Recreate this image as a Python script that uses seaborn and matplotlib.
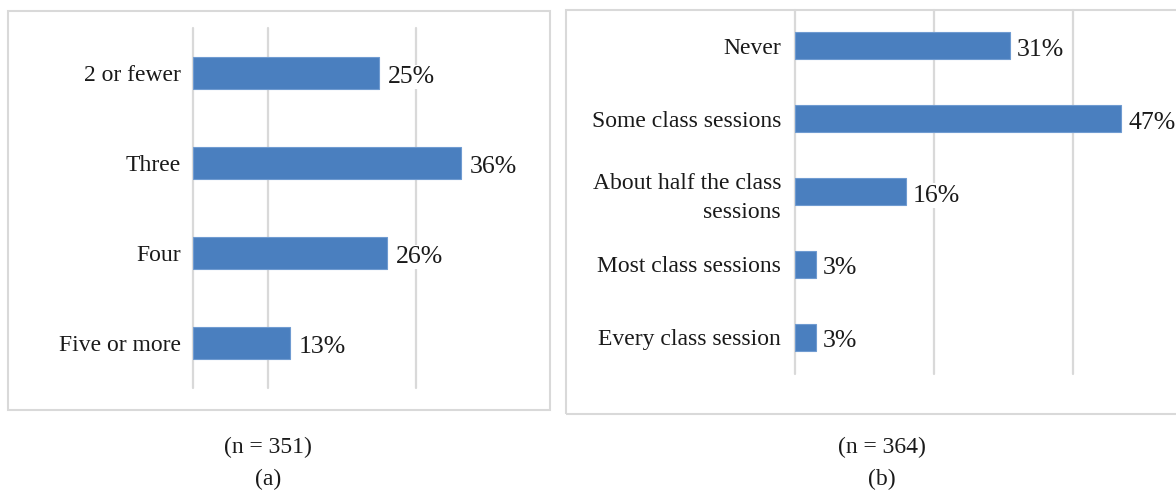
import matplotlib
matplotlib.use('Agg')
import matplotlib.pyplot as plt
from matplotlib.patches import Rectangle
import seaborn as sns

# data
classes_a = ['2 or fewer', 'Three', 'Four', 'Five or more']
share_a = [25, 36, 26, 13]
grid_a = [0, 10, 30]

classes_b = ['Never', 'Some class sessions', 'About half the class\nsessions',
             'Most class sessions', 'Every class session']
share_b = [31, 47, 16, 3, 3]
grid_b = [0, 20, 40]

caption_a = ['(n = 351)', '(a)']
caption_b = ['(n = 364)', '(b)']

sns.set_style('white')
plt.rcParams['font.family'] = ['Liberation Serif', 'DejaVu Serif']

bar_color = '#4a7fbf'
grid_color = '#d9d9d9'

fig = plt.figure(figsize=(11.76, 4.91), dpi=100)

# panel frames
fig.patches.append(Rectangle((0.0068, 0.165), 0.4609, 0.8126, transform=fig.transFigure,
                             fill=False, edgecolor=grid_color, linewidth=1.5))
fig.patches.append(Rectangle((0.4813, 0.1568), 0.53, 0.8228, transform=fig.transFigure,
                             fill=False, edgecolor=grid_color, linewidth=1.5))

ax_a = fig.add_axes([0.1645, 0.2098, 0.2843, 0.7332])
ax_b = fig.add_axes([0.6760, 0.2393, 0.3245, 0.7413])


def draw_panel(ax, cats, vals, grid, xmax, width, pad, lpad):
    sns.barplot(x=vals, y=cats, orient='h', color=bar_color, width=width,
                edgecolor='#6f9bd1', linewidth=0.8, saturation=1, ax=ax, zorder=3)
    for g in grid:
        ax.axvline(g, color=grid_color, linewidth=1.6, zorder=1, clip_on=False)
    ax.set_xlim(0, xmax)
    ax.set_ylim(len(cats) - 0.5, -0.5)
    ax.set_xticks([])
    ax.set_xlabel('')
    ax.set_ylabel('')
    for s in ax.spines.values():
        s.set_visible(False)
    ax.tick_params(axis='y', length=0, pad=pad, labelsize=17, labelcolor='#1a1a1a')
    ax.patch.set_alpha(0)
    labels = ax.bar_label(ax.containers[0], labels=[f'{v}%' for v in vals],
                          padding=lpad, fontsize=18.5, color='#1a1a1a', zorder=4)
    for t in labels:
        t.xyann = (t.xyann[0], t.xyann[1] - 3)
        t.set_bbox(dict(facecolor='white', edgecolor='none', pad=1))
        t.set_clip_on(False)


draw_panel(ax_a, classes_a, share_a, grid_a, 45, 0.36, 9, 6.5)
draw_panel(ax_b, classes_b, share_b, grid_b, 55, 0.37, 10, 5)
for t in ax_b.get_yticklabels():
    t.set_linespacing(1.5)

fig.text(0.2279, 0.0896, caption_a[0], ha='center', va='center', fontsize=17, color='#1a1a1a')
fig.text(0.2279, 0.0244, caption_a[1], ha='center', va='center', fontsize=17, color='#1a1a1a')
fig.text(0.75, 0.0896, caption_b[0], ha='center', va='center', fontsize=17, color='#1a1a1a')
fig.text(0.75, 0.0244, caption_b[1], ha='center', va='center', fontsize=17, color='#1a1a1a')

fig.savefig('out.png', dpi=100)
